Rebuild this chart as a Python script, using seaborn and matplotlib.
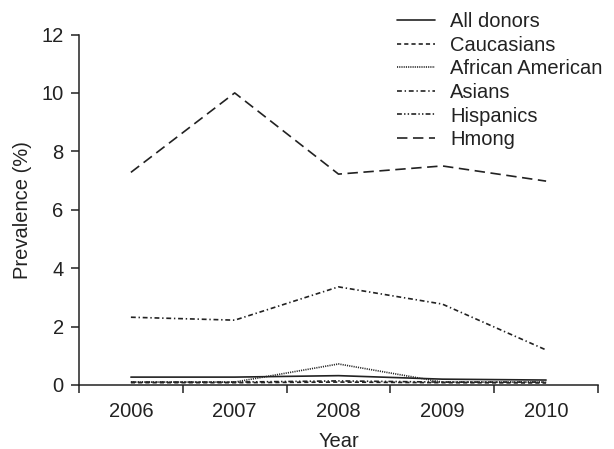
import matplotlib
matplotlib.use("Agg")
import matplotlib.pyplot as plt
from matplotlib.ticker import FixedLocator, NullFormatter, FixedFormatter
from matplotlib.lines import Line2D
import seaborn as sns
import pandas as pd

years = ["2006", "2007", "2008", "2009", "2010"]
groups = ["All donors", "Caucasians", "African American", "Asians", "Hispanics", "Hmong"]

all_donors = [0.27, 0.27, 0.32, 0.20, 0.17]
caucasians = [0.08, 0.08, 0.10, 0.08, 0.07]
african_american = [0.10, 0.10, 0.72, 0.10, 0.10]
asians = [2.32, 2.22, 3.36, 2.77, 1.20]
hispanics = [0.10, 0.10, 0.14, 0.10, 0.10]
hmong = [7.28, 10.0, 7.22, 7.50, 6.98]

series = [all_donors, caucasians, african_american, asians, hispanics, hmong]

rows = []
for g, vals in zip(groups, series):
    for i, v in enumerate(vals):
        rows.append({"pos": i, "Year": years[i], "group": g, "value": v})
df = pd.DataFrame(rows)

sns.set_theme(style="ticks")
plt.rcParams["font.family"] = ["Liberation Sans", "DejaVu Sans"]
plt.rcParams["lines.scale_dashes"] = False

ink = "#222222"
dash_map = {
    "All donors": "",
    "Caucasians": (3.0, 2.2),
    "African American": (0.8, 0.8),
    "Asians": (3.5, 2.0, 1.0, 2.0),
    "Hispanics": (3.5, 1.6, 1.0, 1.6, 1.0, 1.6),
    "Hmong": (7.5, 4.0),
}

fig = plt.figure(figsize=(6.14, 4.49), dpi=100)
ax = fig.add_axes([79 / 614, 1 - 385 / 449, (598 - 79) / 614, (385 - 34.5) / 449])

sns.lineplot(data=df, x="pos", y="value", style="group", style_order=groups,
             dashes=dash_map, color=ink, linewidth=1.2, ax=ax, legend=False,
             estimator=None, sort=False)

ax.set_xlim(-0.5, 4.5)
ax.set_ylim(0, 12)
ax.set_yticks([0, 2, 4, 6, 8, 10, 12])

# ticks sit between year categories; labels sit at category centers
ax.xaxis.set_major_locator(FixedLocator([-0.5, 0.5, 1.5, 2.5, 3.5, 4.5]))
ax.xaxis.set_major_formatter(NullFormatter())
ax.xaxis.set_minor_locator(FixedLocator([0, 1, 2, 3, 4]))
ax.xaxis.set_minor_formatter(FixedFormatter(years))
ax.tick_params(axis="x", which="major", length=6, width=1.1, color=ink, direction="out")
ax.tick_params(axis="x", which="minor", length=0, pad=12, labelsize=14.5, labelcolor=ink)
ax.tick_params(axis="y", length=6, width=1.1, color=ink, pad=5, labelsize=14.5, labelcolor=ink)

for side in ["top", "right"]:
    ax.spines[side].set_visible(False)
for side in ["left", "bottom"]:
    ax.spines[side].set_color(ink)
    ax.spines[side].set_linewidth(1.1)

ax.set_xlabel("Year", fontsize=14.5, color=ink, labelpad=8)
ax.set_ylabel("Prevalence (%)", fontsize=14.5, color=ink, labelpad=7)

handles = []
for g in groups:
    d = dash_map[g]
    h = Line2D([0], [0], color=ink, linewidth=1.2)
    if d:
        h.set_dashes(d)
    handles.append(h)
fig.legend(handles, groups, loc="upper left", bbox_to_anchor=(397 / 614, 1 - 12 / 449),
           frameon=False, fontsize=14.5, handlelength=1.9, handletextpad=0.75,
           labelspacing=0.23, borderpad=0, borderaxespad=0, labelcolor=ink)

fig.savefig("out.png", dpi=100)
